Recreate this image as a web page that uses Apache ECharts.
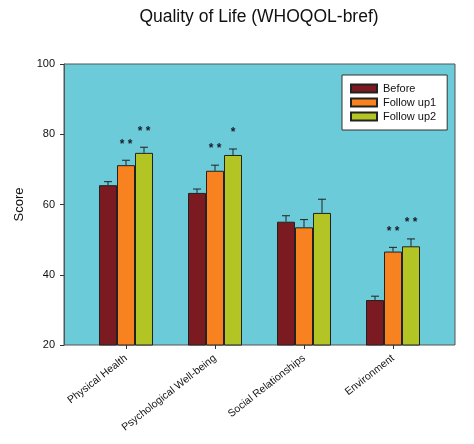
<!DOCTYPE html>
<html>
<head>
<meta charset="utf-8">
<script src="https://cdn.jsdelivr.net/npm/echarts@6/dist/echarts.min.js"></script>
<style>html,body{margin:0;padding:0;background:#fff;}#c{width:474px;height:444px;}</style>
</head>
<body>
<div id="c"></div>
<script>
var categories = ['Physical Health', 'Psychological Well-being', 'Social Relationships', 'Environment'];
var seriesNames = ['Before', 'Follow up1', 'Follow up2'];
var before = [65.5, 63.3, 55.1, 32.8];
var followUp1 = [71.2, 69.6, 53.5, 46.6];
var followUp2 = [74.7, 74.1, 57.6, 48.1];
var beforeErr = [1.0, 1.1, 1.7, 1.1];
var followUp1Err = [1.4, 1.6, 2.2, 1.2];
var followUp2Err = [1.6, 1.7, 3.9, 2.1];
var beforeSig = ['', '', '', ''];
var followUp1Sig = ['**', '**', '', '**'];
var followUp2Sig = ['**', '*', '', '**'];
var yTicks = [20, 40, 60, 80, 100];

var colors = ['#7b1a20', '#f7821f', '#b3c425'];
var FONT = 'Liberation Sans, Arial, sans-serif';
var BAR_W = 18;

var chart = echarts.init(document.getElementById('c'), null, {renderer: 'canvas'});

function errSeries(vals, errs, sigs, k) {
  var offset = (k - 1) * BAR_W;
  return {
    type: 'custom',
    xAxisIndex: 1, yAxisIndex: 1,
    z: 5,
    data: vals.map(function (v, i) { return [i, v, errs[i]]; }),
    renderItem: function (params, api) {
      var i = api.value(0), v = api.value(1), e = api.value(2);
      var sig = sigs[params.dataIndex];
      var p0 = api.coord([i, v]);
      var p1 = api.coord([i, v + e]);
      var x = p0[0] + offset;
      var children = [
        {type: 'line', shape: {x1: x, y1: p0[1], x2: x, y2: p1[1]}, style: {stroke: '#222', lineWidth: 1}},
        {type: 'line', shape: {x1: x - 4, y1: p1[1], x2: x + 4, y2: p1[1]}, style: {stroke: '#222', lineWidth: 1}}
      ];
      if (sig) {
        children.push({type: 'text', style: {text: sig.split('').join(' '), x: x, y: p1[1] - 16, align: 'center', verticalAlign: 'middle',
          font: 'bold 12px ' + FONT, fill: '#1a1a2a'}});
      }
      return {type: 'group', children: children};
    },
    silent: true,
    tooltip: {show: false}
  };
}

var allVals = [before, followUp1, followUp2];
var allErrs = [beforeErr, followUp1Err, followUp2Err];
var allSigs = [beforeSig, followUp1Sig, followUp2Sig];

var series = [];
seriesNames.forEach(function (n, k) {
  series.push({
    name: n, type: 'bar', xAxisIndex: 1, yAxisIndex: 1,
    data: allVals[k], barWidth: BAR_W, barGap: '0%',
    itemStyle: {color: colors[k], borderColor: '#222', borderWidth: 1},
    clip: true
  });
});
seriesNames.forEach(function (n, k) {
  series.push(errSeries(allVals[k], allErrs[k], allSigs[k], k));
});

chart.setOption({
  animation: false,
  textStyle: {fontFamily: FONT},
  title: {
    text: 'Quality of Life (WHOQOL-bref)', left: 254, top: 3, textAlign: 'center',
    textStyle: {fontFamily: FONT, fontSize: 17.5, fontWeight: 'normal', color: '#111'}
  },
  legend: {
    data: seriesNames, orient: 'vertical', left: 342, top: 75,
    padding: [8, 11, 8, 8], itemGap: 3, itemWidth: 26, itemHeight: 8,
    backgroundColor: '#fff', borderColor: '#333', borderWidth: 1, borderRadius: 0,
    textStyle: {fontFamily: FONT, fontSize: 11, color: '#111', padding: [0, 0, 0, 1]},
    icon: 'rect'
  },
  grid: [
    {left: 64, top: 64, width: 391, height: 281, show: true, backgroundColor: '#6ccbd9', borderColor: '#555', borderWidth: 1},
    {left: 81.5, top: 64, width: 356, height: 281}
  ],
  xAxis: [
    {gridIndex: 0, type: 'value', min: 0, max: 1, show: false},
    {gridIndex: 1, type: 'category', data: categories,
      axisLine: {show: false},
      axisTick: {show: true, alignWithLabel: true, length: 4, lineStyle: {color: '#333'}},
      axisLabel: {rotate: 38, margin: 12, interval: 0, fontFamily: FONT, fontSize: 10.5, color: '#111'}
    }
  ],
  yAxis: [
    {gridIndex: 0, type: 'value', min: yTicks[0], max: yTicks[yTicks.length - 1], interval: 20,
      name: 'Score', nameLocation: 'middle', nameGap: 38,
      nameTextStyle: {fontFamily: FONT, fontSize: 13, color: '#111'},
      axisLine: {show: true, lineStyle: {color: '#555'}},
      axisTick: {show: true, length: 4, lineStyle: {color: '#333'}},
      axisLabel: {fontFamily: FONT, fontSize: 11, color: '#111', margin: 9},
      splitLine: {show: false}
    },
    {gridIndex: 1, type: 'value', min: yTicks[0], max: yTicks[yTicks.length - 1], interval: 20, show: false, splitLine: {show: false}}
  ],
  series: series
});
</script>
</body>
</html>
